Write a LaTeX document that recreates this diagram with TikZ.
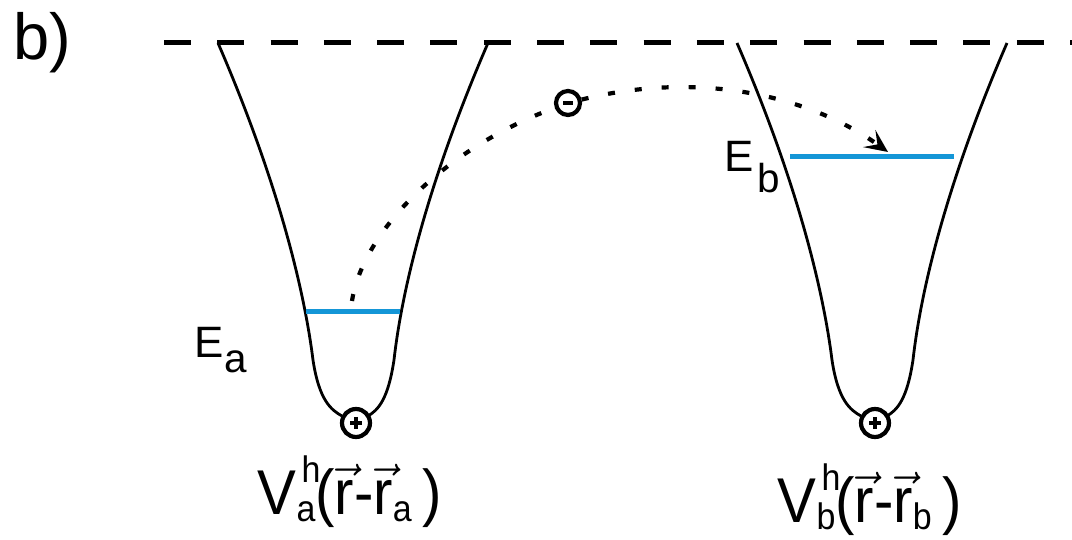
\documentclass[tikz,border=0pt]{standalone}
\usepackage{fontspec}
\setmainfont{Liberation Sans}
\newfontfamily\narrowsans[FakeStretch=0.92]{Liberation Sans}
\usepackage{amsmath}
\usetikzlibrary{arrows.meta}
\definecolor{levelblue}{RGB}{20,150,215}

\newcommand{\vecr}{$\vec{\text{r}}$}
\newcommand{\vscr}[1]{{\fontsize{10.5}{11}\selectfont #1}}
\newcommand{\escr}[1]{{\fontsize{11.5}{12}\selectfont #1}}

\begin{document}
\begin{tikzpicture}[x=0.1mm, y=-0.1mm,
    wall/.style={line width=0.28mm},
    level/.style={line width=0.5mm, draw=levelblue},
    vacuum/.style={line width=0.5mm, dash pattern=on 2.7mm off 2.63mm},
    hop/.style={line width=0.42mm, dash pattern=on 0.7mm off 2mm},
    charge/.style={circle, draw, line width=0.42mm, fill=white, minimum size=2.8mm, inner sep=0pt},
    lbl/.style={inner sep=0pt, anchor=base west, font=\narrowsans\fontsize{18}{20}\selectfont},
    elbl/.style={inner sep=0pt, anchor=base west, font=\fontsize{12.5}{14}\selectfont}
  ]
  \useasboundingbox (0,0) rectangle (1072,540);

  % Vacuum level
  \coordinate (vac-l) at (164,43);
  \coordinate (vac-r) at (1072,43);
  \draw[vacuum] (vac-l) -- (vac-r);

  % Two potential wells
  \foreach \n/\cx/\ly/\lw in {a/353/312/47, b/872/157/82} {
    \begin{scope}[shift={(\cx,0)}]
      \draw[wall] (-135,43) .. controls (-80,170) and (-50,280) .. (-40,360)
                  .. controls (-34,400) and (-22,410) .. (-11,416);
      \draw[wall] (135,43) .. controls (80,170) and (50,280) .. (41,360)
                  .. controls (35,400) and (25,410) .. (15,416);
      \draw[level] (-\lw,\ly) coordinate (lev\n-l) -- (\lw,\ly) coordinate (lev\n-r);
      \node[charge] (plus\n) at (3,423) {};
      \draw[line width=0.42mm] (plus\n.center) +(-6,0) -- +(6,0)
                               (plus\n.center) +(0,-6) -- +(0,6);
    \end{scope}
  }

  % Electron hopping from a to b
  \node[charge, minimum size=2.4mm] (elec) at (568,103) {};
  \draw[line width=0.42mm] (elec.center) +(-5,0) -- +(5,0);
  \coordinate (hop-a) at (352,301);
  \coordinate (hop-b) at (888,152);
  \draw[hop] (hop-a) .. controls (362,235) and (440,150) .. (elec);
  \draw[hop, -{Stealth[length=2.3mm, width=2.1mm, inset=1mm]}]
    (elec) .. controls (700,70) and (810,96) .. (hop-b);

  % Labels
  \node[lbl, font=\fontsize{18.5}{20}\selectfont] (tag) at (13,60) {b)};
  \node[elbl] (lblEa) at (194,358) {E\raisebox{-1.5mm}{\escr{a}}};
  \node[elbl] (lblEb) at (724,172) {E\hspace{0.3mm}\raisebox{-2.1mm}{\escr{b}}};
  \node[lbl] (lblVa) at (257,515) {V\rlap{\hspace{0.5mm}\raisebox{3.2mm}{\vscr{h}}}\raisebox{-0.7mm}{\vscr{a}}(\vecr-\vecr\raisebox{-0.7mm}{\vscr{a}}\,)};
  \node[lbl] (lblVb) at (777,523) {V\rlap{\hspace{0.5mm}\raisebox{3.2mm}{\vscr{h}}}\raisebox{-0.7mm}{\vscr{b}}(\vecr-\vecr\raisebox{-0.7mm}{\vscr{b}}\,)};
\end{tikzpicture}
\end{document}
